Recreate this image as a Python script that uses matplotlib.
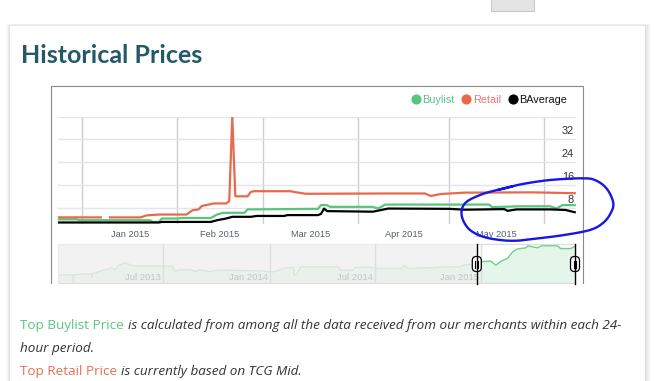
import matplotlib
matplotlib.use("Agg")
import matplotlib.pyplot as plt
import matplotlib.transforms as mtransforms
from matplotlib.lines import Line2D
from matplotlib.patches import Rectangle, FancyBboxPatch
import numpy as np
import pandas as pd

# ---- values ----
retail_dates = ["2014-12-24", "2015-01-07", "2015-01-08", "2015-01-10", "2015-01-20", "2015-01-22",
                "2015-01-26", "2015-02-04", "2015-02-06", "2015-02-08", "2015-02-09", "2015-02-13",
                "2015-02-17", "2015-02-18", "2015-02-19", "2015-02-20", "2015-02-24", "2015-02-25",
                "2015-02-26", "2015-03-10", "2015-03-12", "2015-03-15", "2015-04-10", "2015-04-23",
                "2015-04-25", "2015-04-28", "2015-05-06", "2015-05-28", "2015-06-11"]
retail_vals = [4.6, 4.6, np.nan, 4.6, 4.6, 5.3,
               5.6, 5.6, 7.1, 7.4, 8.6, 9.5,
               9.5, 10.3, 40.0, 12.0, 12.0, 13.5,
               13.8, 13.8, 13.4, 12.9, 13.0, 13.0,
               12.1, 12.8, 13.3, 13.4, 13.1]

buylist_dates = ["2014-12-24", "2014-12-30", "2014-12-31", "2015-01-23", "2015-01-24", "2015-01-26",
                 "2015-01-27", "2015-02-01", "2015-02-03", "2015-02-12", "2015-02-14", "2015-02-16",
                 "2015-02-23", "2015-02-24", "2015-03-08", "2015-03-19", "2015-03-20", "2015-03-22",
                 "2015-03-23", "2015-04-06", "2015-04-07", "2015-04-08", "2015-04-10", "2015-05-14",
                 "2015-05-15", "2015-05-24", "2015-06-03", "2015-06-05", "2015-06-07", "2015-06-11"]
buylist_vals = [3.9, 3.9, 3.6, 3.6, 3.0, 3.0,
                4.2, 4.2, 4.4, 4.4, 5.6, 6.2,
                6.2, 7.4, 7.5, 7.6, 8.9, 8.9,
                8.3, 8.3, 7.9, 7.9, 9.1, 9.1,
                8.2, 8.5, 8.5, 7.7, 8.9, 8.9]

bavg_dates = ["2014-12-24", "2015-01-26", "2015-01-27", "2015-02-12", "2015-02-14", "2015-02-17",
              "2015-02-19", "2015-02-25", "2015-02-27", "2015-03-08", "2015-03-09", "2015-03-19",
              "2015-03-20", "2015-03-21", "2015-03-22", "2015-04-06", "2015-04-11", "2015-05-01",
              "2015-05-06", "2015-05-19", "2015-05-20", "2015-05-23", "2015-06-03", "2015-06-08",
              "2015-06-11"]
bavg_vals = [2.8, 2.8, 3.0, 3.0, 3.6, 4.2,
             4.8, 4.8, 5.1, 5.1, 5.4, 5.4,
             5.8, 7.7, 6.8, 6.6, 7.7, 7.6,
             7.3, 7.5, 6.9, 7.4, 7.4, 7.2,
             6.4]

nav_dates = ["2013-01-01", "2013-01-26", "2013-01-27", "2013-01-28", "2013-02-27", "2013-02-28",
             "2013-03-01", "2013-03-14", "2013-03-25", "2013-04-03", "2013-04-08", "2013-04-14",
             "2013-04-26", "2013-05-04", "2013-05-13", "2013-07-17", "2013-07-21", "2013-07-29",
             "2013-08-16", "2013-08-27", "2013-09-02", "2013-09-19", "2013-10-06", "2013-12-13",
             "2014-01-06", "2014-01-30", "2014-02-11", "2014-02-12", "2014-02-16", "2014-02-23",
             "2014-04-30", "2014-05-03", "2014-05-24", "2014-05-27", "2014-06-17", "2014-07-04",
             "2014-08-16", "2014-08-20", "2014-08-28", "2014-10-09", "2014-11-02", "2014-11-26",
             "2014-12-03", "2014-12-20", "2014-12-24", "2015-01-17", "2015-01-26", "2015-02-04",
             "2015-02-15", "2015-02-24", "2015-03-04", "2015-03-19", "2015-03-22", "2015-04-08",
             "2015-04-14", "2015-05-12", "2015-05-18", "2015-06-04", "2015-06-10"]
nav_vals = [2.1, 2.2, 0.3, 2.2, 2.5, 1.4,
            2.5, 3.1, 3.5, 4.0, 3.4, 4.5,
            5.3, 4.8, 4.4, 4.4, 3.1, 3.5,
            3.5, 3.0, 3.5, 3.0, 3.4, 3.2,
            2.9, 4.0, 4.0, 2.2, 2.2, 4.2,
            4.2, 3.4, 3.4, 4.0, 4.2, 3.8,
            3.8, 4.65, 3.8, 4.0, 4.2, 4.2,
            4.8, 4.8, 5.5, 5.7, 4.65, 5.7,
            6.4, 8.1, 8.8, 9.1, 9.6, 9.1,
            9.6, 9.6, 8.9, 8.9, 9.4]

month_starts = ["2015-01-01", "2015-02-01", "2015-03-01", "2015-04-01", "2015-05-01", "2015-06-01"]
month_labels = ["Jan 2015", "Feb 2015", "Mar 2015", "Apr 2015", "May 2015"]
y_grid = [8, 16, 24, 32, 40]
y_labels = [8, 16, 24, 32]
nav_ticks = ["2013-07-01", "2014-01-01", "2014-07-01", "2015-01-01"]
nav_labels = ["Jul 2013", "Jan 2014", "Jul 2014", "Jan 2015"]

series = [("Buylist", buylist_dates, buylist_vals, "#58c57b", "#5cbf8e"),
          ("Retail", retail_dates, retail_vals, "#e8694b", "#ee7770"),
          ("BAverage", bavg_dates, bavg_vals, "#000000", "#111111")]

W, H = 661, 381
fig = plt.figure(figsize=(W / 100, H / 100), dpi=100)
fig.patch.set_facecolor("white")


def px_axes(x0, y0, x1, y1, **kw):
    return fig.add_axes([x0 / W, 1 - y1 / H, (x1 - x0) / W, (y1 - y0) / H], **kw)


# page background: card, shadow, button, frame
page = fig.add_axes([0, 0, 1, 1], zorder=0)
page.set_xlim(0, W)
page.set_ylim(H, 0)
page.axis("off")
for i in range(1, 7):
    page.add_patch(Rectangle((10 - i * 0.6, 26 - i * 0.4), 635 + i * 1.6, 420, fc="black",
                             alpha=0.018, lw=0))
page.add_patch(Rectangle((10, 26), 635, 420, fc="white", lw=0))
page.add_patch(Rectangle((491, -3), 43, 13.5, fc="#e4e4e4", ec="#c9c9c9", lw=0.8))
page.text(21, 63.3, "Historical Prices", fontsize=18, fontweight="bold", family="Lato",
          color="#245a68", va="baseline")
page.plot([51, 51, 582.7, 582.7], [283, 85.5, 85.5, 283], color="#8a8a8a", lw=0.8)

# main chart
ax = px_axes(58, 116.7, 576, 224, zorder=2)
ax.set_facecolor("none")
x0, x1 = pd.Timestamp("2014-12-24"), pd.Timestamp("2015-06-11 10:00")
ax.set_xlim(x0, x1)
ax.set_ylim(2.27, 40)
for s in ax.spines.values():
    s.set_visible(False)
ax.set_yticks(y_grid)
ms = pd.to_datetime(month_starts)
ax.set_xticks(ms)
mids = [ms[i] + (ms[i + 1] - ms[i]) / 2 for i in range(len(month_labels))]
ax.set_xticks(mids, minor=True)
ax.set_xticklabels([], minor=False)
ax.set_xticklabels(month_labels, minor=True, fontsize=6.7, color="#55606e", family="Liberation Sans")
ax.tick_params(which="both", length=0, labelleft=False, pad=4)
ax.grid(axis="y", color="#e4e4ef", lw=1)
ax.grid(axis="x", which="major", color="#cdcdcd", lw=1)
ax.set_axisbelow(True)
for v in y_labels:
    ax.text(0.996, v + 2.8, str(v), transform=ax.get_yaxis_transform(), ha="right", va="center",
            fontsize=7.9, color="#333333", family="Liberation Sans")

for name, d, v, c, _ in series:
    ax.plot(pd.to_datetime(d), v, color=c, lw=1.6, solid_joinstyle="round")

handles = [Line2D([], [], marker="o", ls="", color=c, markersize=6.3) for _, _, _, c, _ in series]
leg = ax.legend(handles, [n for n, *_ in series], loc="center right", bbox_to_anchor=(0.983, 1.158),
                ncol=3, frameon=False, handletextpad=0.2, columnspacing=0.68, borderpad=0,
                borderaxespad=0, handlelength=0.8, prop={"family": "Liberation Sans", "size": 7.8})
for t, (_, _, _, _, tc) in zip(leg.get_texts(), series):
    t.set_color(tc)

# navigator
nav = px_axes(58.3, 244.3, 575, 283.3, zorder=2)
nav.set_facecolor("white")
nav.set_xlim(pd.Timestamp("2013-01-01"), x1)
nav.set_ylim(0, 10)
nav.set_xticks([])
nav.set_yticks([])
for s in nav.spines.values():
    s.set_color("#dcdcdc")
    s.set_linewidth(0.8)
nd = pd.to_datetime(nav_dates)
nav.fill_between(nd, nav_vals, 0, color="#e4f5e9", lw=0)
nav.plot(nd, nav_vals, color="#6fcf8d", lw=1)
nav.axvspan(pd.Timestamp("2013-01-01"), x0, color="#efefef", alpha=0.8, lw=0, zorder=3)
lbl_tr = mtransforms.offset_copy(nav.get_xaxis_transform(), fig=fig, x=-2, y=0, units="dots")
for d, lab in zip(pd.to_datetime(nav_ticks), nav_labels):
    nav.axvline(d, color="#dedede", lw=1, zorder=4)
    nav.text(d, 0.16, lab, transform=lbl_tr, ha="right", va="center", fontsize=6.8,
             color="#c4c4c4", family="Liberation Sans", zorder=5)

# overlay: handles and hand-drawn annotation
top = fig.add_axes([0, 0, 1, 1], zorder=10)
top.set_facecolor("none")
top.set_xlim(0, W)
top.set_ylim(H, 0)
top.axis("off")
for d in (x0, x1):
    hx = nav.transData.transform((matplotlib.dates.date2num(d), 0))[0]
    top.plot([hx, hx], [244.3, 283.5], color="black", lw=1)
    top.add_patch(FancyBboxPatch((hx - 4.5, 256.5), 9, 15, boxstyle="round,pad=0,rounding_size=4",
                                 fc="white", ec="black", lw=0.9))
    top.plot([hx - 1.3, hx - 1.3], [260.5, 267.5], color="black", lw=0.8)
    top.plot([hx + 1.3, hx + 1.3], [260.5, 267.5], color="black", lw=0.8)

ring = np.array([(498, 190), (520, 184.5), (550, 180), (583, 178.3), (596, 180.5), (607, 189),
                 (613.3, 203), (610.5, 213.5), (603, 223), (590, 230), (563, 235.2), (536.7, 238.5),
                 (516.7, 240.7), (500, 240), (483, 236.7), (470, 230), (463, 220), (461.7, 210),
                 (466.7, 201.7), (480, 195), (493, 191), (512, 186.5)])


def smooth(pts, n=10):
    p = np.vstack([pts[0], pts, pts[-1]])
    out = []
    t = np.linspace(0, 1, n, endpoint=False)[:, None]
    for i in range(1, len(p) - 2):
        p0, p1, p2, p3 = p[i - 1], p[i], p[i + 1], p[i + 2]
        out.append(0.5 * (2 * p1 + (-p0 + p2) * t + (2 * p0 - 5 * p1 + 4 * p2 - p3) * t ** 2
                          + (-p0 + 3 * p1 - 3 * p2 + p3) * t ** 3))
    out.append(p[-2][None])
    return np.vstack(out)


sm = smooth(ring)
top.plot(sm[:, 0], sm[:, 1], color="#1616e8", lw=1.7, solid_capstyle="round")

# text below the chart
renderer = fig.canvas.get_renderer()


def run(x, y, parts):
    for txt, col, style in parts:
        t = page.text(x, y, txt, fontsize=9.7, family="Open Sans", color=col, style=style,
                      va="baseline")
        bb = t.get_window_extent(renderer)
        x += bb.width


run(20.4, 329.3, [("Top Buylist Price ", "#5cc57f", "normal"),
                  ("is calculated from among all the data received from our merchants within each 24-",
                   "#333333", "italic")])
run(20.4, 351.7, [("hour period.", "#333333", "italic")])
run(20.4, 375, [("Top Retail Price ", "#e8704f", "normal"),
                ("is currently based on TCG Mid.", "#333333", "italic")])

fig.savefig("out.png", dpi=100, facecolor="white")
